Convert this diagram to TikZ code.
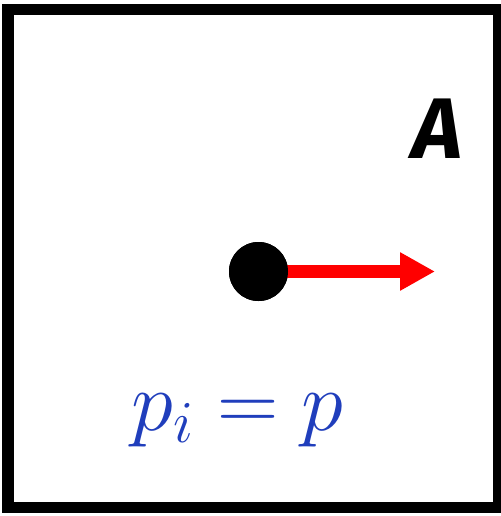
\RequirePackage{fix-cm}
\documentclass[tikz,border=0pt]{standalone}
\usepackage{fontspec}
\usetikzlibrary{arrows.meta}
\newfontfamily\letterfont{Fira Sans}
\definecolor{eqblue}{RGB}{32,62,188}
\definecolor{arrred}{RGB}{255,0,0}
\tikzset{
  frame/.style={draw=black, line width=11.5pt},
  ball/.style={circle, fill=black, inner sep=0pt, minimum size=59pt},
  vec/.style={draw=arrred, line width=12.7pt, -{Triangle[length=35pt,width=36pt]}},
  bigletter/.style={inner sep=0pt, font=\letterfont\bfseries\itshape\fontsize{86}{90}\selectfont},
  eqlabel/.style={inner sep=0pt, text=eqblue, font=\fontsize{85}{88}\selectfont}
}
\begin{document}
\begin{tikzpicture}[x=1pt,y=-1pt]
\useasboundingbox (0,0) rectangle (500,516);
\fill[white] (0,0) rectangle (500,516);
\draw[frame] (8,9.5) rectangle (499,507.5);
\node[ball] (dot) at (258.5,271.5) {};
\coordinate (tip) at (435,271.5);
\draw[vec] (dot.center) -- (tip);
\node[ball] at (dot) {};
\node[bigletter] (lab) at (437.5,129) {A};
\node[eqlabel, anchor=base] (eq) at (237.5,430) {$p_i = p$};
\end{tikzpicture}
\end{document}
